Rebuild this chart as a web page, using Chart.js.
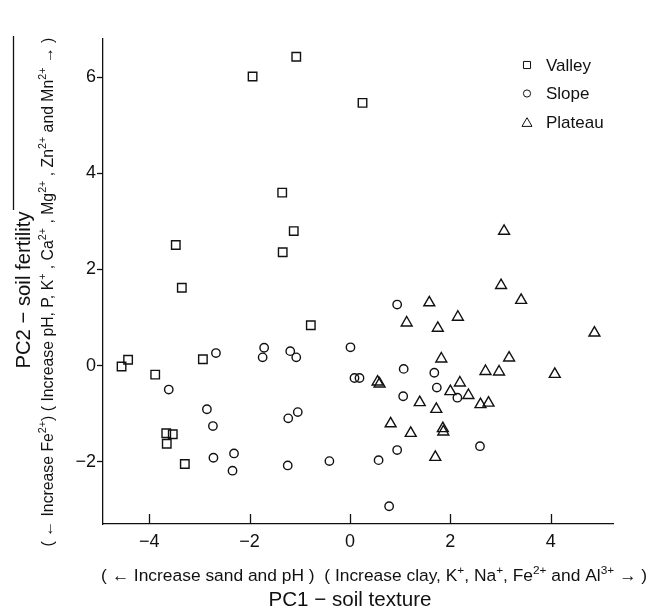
<!DOCTYPE html>
<html>
<head>
<meta charset="utf-8">
<script src="https://cdn.jsdelivr.net/npm/chart.js@4.4.1/dist/chart.umd.min.js"></script>
<style>
  html, body { margin: 0; padding: 0; background: #fff; }
</style>
</head>
<body>
<canvas id="myChart" width="651" height="615"></canvas>
<script>
const seriesNames = ['Valley', 'Slope', 'Plateau'];

const valleyX = [-1.94, -1.07, 0.25, -1.35, -1.12, -1.34, -3.47, -3.35, -0.78, -2.93, -4.42, -4.55, -3.88, -3.66, -3.53, -3.65, -3.29];
const valleyY = [6.02, 6.43, 5.47, 3.6, 2.8, 2.36, 2.51, 1.62, 0.84, 0.13, 0.12, -0.02, -0.19, -1.41, -1.43, -1.63, -2.05];

const slopeX = [-2.67, -1.71, -1.74, -1.19, -1.07, 0.01, 0.09, 0.19, -3.61, -2.85, -2.73, -1.04, -1.23, -2.72, -2.31, -2.34, -1.24, -0.41, 0.94, 1.07, 1.68, 1.73, 1.06, 2.14, 0.94, 2.59, 0.57, 0.78];
const slopeY = [0.26, 0.37, 0.17, 0.3, 0.17, 0.38, -0.26, -0.26, -0.5, -0.91, -1.26, -0.97, -1.1, -1.92, -1.83, -2.19, -2.08, -1.99, 1.27, -0.07, -0.15, -0.46, -0.64, -0.67, -1.76, -1.68, -1.97, -2.93];

const plateauX = [3.07, 3.01, 3.41, 1.58, 2.15, 1.13, 1.75, 4.87, 1.82, 3.17, 2.7, 2.97, 4.08, 0.55, 0.59, 2.19, 2.0, 2.36, 2.6, 2.76, 1.39, 1.72, 0.81, 1.21, 1.85, 1.86, 1.7];
const plateauY = [2.8, 1.67, 1.36, 1.31, 1.01, 0.89, 0.78, 0.68, 0.14, 0.16, -0.12, -0.13, -0.18, -0.34, -0.38, -0.36, -0.54, -0.62, -0.81, -0.78, -0.77, -0.91, -1.21, -1.41, -1.31, -1.38, -1.91];

const xTicks = [-4, -2, 0, 2, 4];
const yTicks = [-2, 0, 2, 4, 6];

const FONT = '"Liberation Sans", Arial, Helvetica, sans-serif';
const INK = '#111';

const toPoints = (xs, ys) => xs.map((x, i) => ({ x, y: ys[i] }));
const minus = (v) => String(v).replace('-', '\u2212');

// text pieces, [text, superscript?]
const xTitle = [['PC1 \u2212 soil texture']];
const xSub = [['( \u2190 Increase sand and pH )  ( Increase clay, K'], ['+', 1], [', Na'], ['+', 1], [', Fe'], ['2+', 1], [' and Al'], ['3+', 1], [' \u2192 )']];
const yTitle = [['PC2 \u2212 soil fertility']];
const ySub = [['( \u2190 Increase Fe'], ['2+', 1], [') ( Increase pH, P, K'], ['+', 1], [' , Ca'], ['2+', 1], [' , Mg'], ['2+', 1], [' , Zn'], ['2+', 1], [' and Mn'], ['2+', 1], [' \u2192 )']];

function segFont(size, sup) {
  return `${sup ? size * 0.68 : size}px ${FONT}`;
}

function richWidth(ctx, segs, size) {
  return segs.reduce((w, [t, sup]) => {
    ctx.font = segFont(size, sup);
    return w + ctx.measureText(t).width;
  }, 0);
}

function drawRich(ctx, segs, size, x, y, angle) {
  ctx.save();
  ctx.translate(x, y);
  ctx.rotate(angle);
  ctx.fillStyle = INK;
  ctx.textBaseline = 'alphabetic';
  ctx.textAlign = 'left';
  let pos = -richWidth(ctx, segs, size) / 2;
  segs.forEach(([t, sup]) => {
    ctx.font = segFont(size, sup);
    ctx.fillText(t, pos, sup ? -size * 0.42 : 0);
    pos += ctx.measureText(t).width;
  });
  ctx.restore();
}

const decorations = {
  id: 'decorations',
  afterDraw(chart) {
    const { ctx, chartArea, scales: { x } } = chart;

    // inward ticks on the x axis
    ctx.save();
    ctx.strokeStyle = INK;
    ctx.lineWidth = 1.3;
    x.ticks.forEach((t) => {
      const px = Math.round(x.getPixelForValue(t.value)) + 0.5;
      ctx.beginPath();
      ctx.moveTo(px, x.top);
      ctx.lineTo(px, x.top - 10);
      ctx.stroke();
    });

    // stray overline next to the y title
    ctx.beginPath();
    ctx.moveTo(13.5, 36);
    ctx.lineTo(13.5, 210);
    ctx.stroke();
    ctx.restore();

    drawRich(ctx, xSub, 17.4, 374, 581, 0);
    drawRich(ctx, xTitle, 20.6, 350, 606, 0);
    drawRich(ctx, yTitle, 20.3, 30, 290, -Math.PI / 2);
    drawRich(ctx, ySub, 15.8, 53, 292, -Math.PI / 2);

    // legend
    const lx = chartArea.right - 86;
    const ly = chartArea.top + 26;
    chart.data.datasets.forEach((ds, i) => {
      const cy = ly + i * 28.5;
      ctx.save();
      ctx.strokeStyle = INK;
      ctx.fillStyle = 'rgba(0,0,0,0)';
      Chart.helpers.drawPoint(ctx, {
        pointStyle: ds.pointStyle,
        radius: ds.legendRadius,
        borderWidth: 1.3,
        rotation: 0,
      }, lx, cy + (ds.pointStyle === 'triangle' ? 1.5 : 0));
      ctx.fillStyle = INK;
      ctx.font = `17px ${FONT}`;
      ctx.textBaseline = 'middle';
      ctx.textAlign = 'left';
      ctx.fillText(ds.label, lx + 19, cy + 1);
      ctx.restore();
    });
  },
};

const marker = (label, data, style, radius, legendRadius) => ({
  label,
  data,
  pointStyle: style,
  pointRadius: radius,
  pointHoverRadius: radius,
  legendRadius,
  pointBorderWidth: 1.4,
  borderColor: INK,
  backgroundColor: 'rgba(0,0,0,0)',
  showLine: false,
});

const ctx = document.getElementById('myChart');

new Chart(ctx, {
  type: 'scatter',
  data: {
    datasets: [
      marker(seriesNames[0], toPoints(valleyX, valleyY), 'rect', 6, 5),
      marker(seriesNames[1], toPoints(slopeX, slopeY), 'circle', 4.2, 3.6),
      marker(seriesNames[2], toPoints(plateauX, plateauY), 'triangle', 6.3, 5.8),
    ],
  },
  options: {
    responsive: false,
    animation: false,
    devicePixelRatio: 1,
    layout: { padding: { left: 0, top: 39, right: 38, bottom: 0 } },
    plugins: {
      legend: { display: false },
      tooltip: { enabled: false },
    },
    scales: {
      x: {
        type: 'linear',
        min: -4.92,
        max: 5.24,
        afterBuildTicks: (s) => { s.ticks = xTicks.map((value) => ({ value })); },
        afterFit: (s) => { s.height = 91; },
        grid: { drawOnChartArea: false, drawTicks: false },
        border: { color: INK, width: 1.3 },
        ticks: {
          color: INK,
          font: { family: FONT, size: 18 },
          padding: 7,
          maxRotation: 0,
          autoSkip: false,
          callback: (v) => minus(v),
        },
      },
      y: {
        type: 'linear',
        min: -3.3,
        max: 6.8,
        afterBuildTicks: (s) => { s.ticks = yTicks.map((value) => ({ value })); },
        afterFit: (s) => { s.width = 103; },
        grid: { drawOnChartArea: false, tickLength: 6, tickColor: INK, tickWidth: 1.3 },
        border: { color: INK, width: 1.3 },
        ticks: {
          color: INK,
          font: { family: FONT, size: 18 },
          padding: 1,
          autoSkip: false,
          callback: (v) => minus(v),
        },
      },
    },
  },
  plugins: [decorations],
});
</script>
</body>
</html>
